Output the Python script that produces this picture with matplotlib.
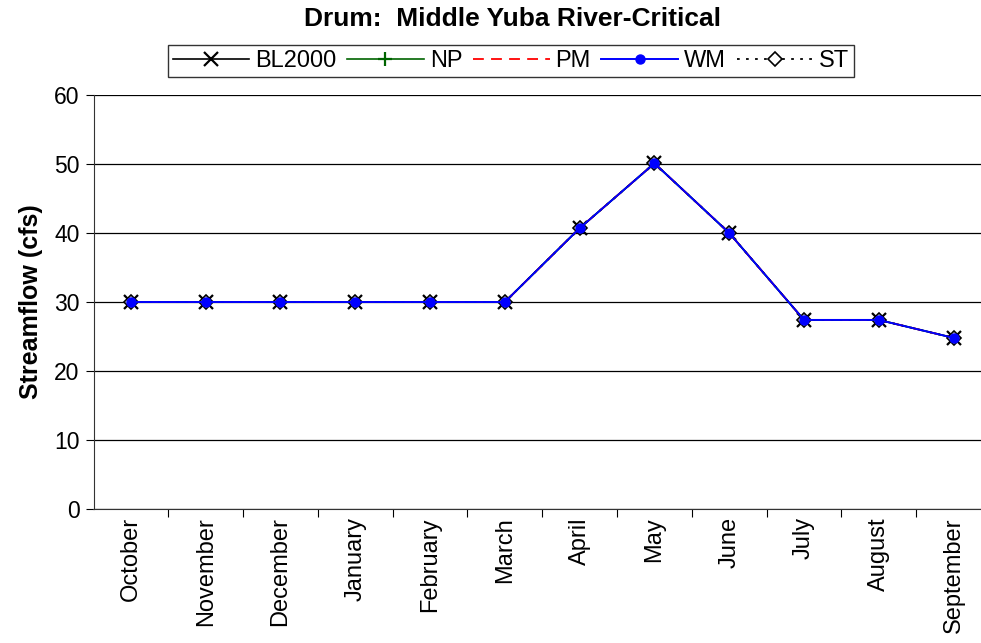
import matplotlib
matplotlib.use("Agg")
import matplotlib.pyplot as plt

months = ["October", "November", "December", "January", "February", "March",
          "April", "May", "June", "July", "August", "September"]
bl2000 = [30, 30, 30, 30, 30, 30, 40.7, 50.1, 40.0, 27.4, 27.4, 24.8]
np_ = [30, 30, 30, 30, 30, 30, 40.7, 50.1, 40.0, 27.4, 27.4, 24.8]
pm = [30, 30, 30, 30, 30, 30, 40.7, 50.1, 40.0, 27.4, 27.4, 24.8]
wm = [30, 30, 30, 30, 30, 30, 40.7, 50.1, 40.0, 27.4, 27.4, 24.8]
st = [30, 30, 30, 30, 30, 30, 40.7, 50.1, 40.0, 27.4, 27.4, 24.8]
yticks = [0, 10, 20, 30, 40, 50, 60]

plt.rcParams['font.family'] = ['Liberation Sans', 'DejaVu Sans']

fig = plt.figure(figsize=(9.81, 6.43), dpi=100)
left = 93.5 / 981
right = 991 / 981
top = 1 - 95 / 643
bottom = 1 - 509 / 643
ax = fig.add_axes([left, bottom, right - left, top - bottom])

x = list(range(len(months)))
l1, = ax.plot(x, bl2000, color='black', lw=1.2, marker='x', ms=10, mew=1.6, label='BL2000')
l2, = ax.plot(x, np_, color='#006400', lw=1.2, marker='+', ms=10, mew=1.6, label='NP')
l3, = ax.plot(x, pm, color='red', lw=1.3, ls=(0, (6, 4)), label='PM')
l5, = ax.plot(x, st, color='black', lw=1.3, ls=(0, (1.5, 3.5)), marker='D', ms=7,
              mfc='white', mec='black', mew=1.2, label='ST')
l4, = ax.plot(x, wm, color='blue', lw=1.4, marker='o', ms=6.5, mec='blue', label='WM')

ax.set_xlim(-0.5, len(months) - 0.5)
ax.set_ylim(0, 60)
ax.set_yticks(yticks)
ax.set_xticks([i + 0.5 for i in range(len(months) - 1)], minor=False)
ax.set_xticklabels([])
ax.set_xticks(x, minor=True)
ax.set_xticklabels(months, minor=True, rotation=90, fontsize=17)
ax.tick_params(axis='x', which='minor', length=0, pad=6)
ax.tick_params(axis='x', which='major', length=6, direction='out', color='black')
ax.tick_params(axis='y', labelsize=16.5, length=6, direction='out', pad=4)
ax.grid(axis='y', color='black', lw=0.9)
ax.set_axisbelow(True)
for s in ['top', 'right']:
    ax.spines[s].set_visible(False)
ax.spines['left'].set_color('#333333')
ax.spines['bottom'].set_color('#333333')
ax.set_ylabel('Streamflow (cfs)', fontsize=18, fontweight='bold', labelpad=8)

fig.text(513 / 981, 1 - 19 / 643, 'Drum:  Middle Yuba River-Critical', ha='center', va='center',
         fontsize=19, fontweight='bold')
leg = fig.legend([l1, l2, l3, l4, l5], ['BL2000', 'NP', 'PM', 'WM', 'ST'],
                 loc='center', bbox_to_anchor=(511 / 981, 1 - 61 / 643), ncol=5,
                 fontsize=17, frameon=True, fancybox=False, edgecolor='black',
                 handlelength=3.25, handletextpad=0.25, columnspacing=0.45,
                 borderpad=0.2, borderaxespad=0)
leg.get_frame().set_linewidth(1.0)

fig.savefig('out.png', dpi=100)
